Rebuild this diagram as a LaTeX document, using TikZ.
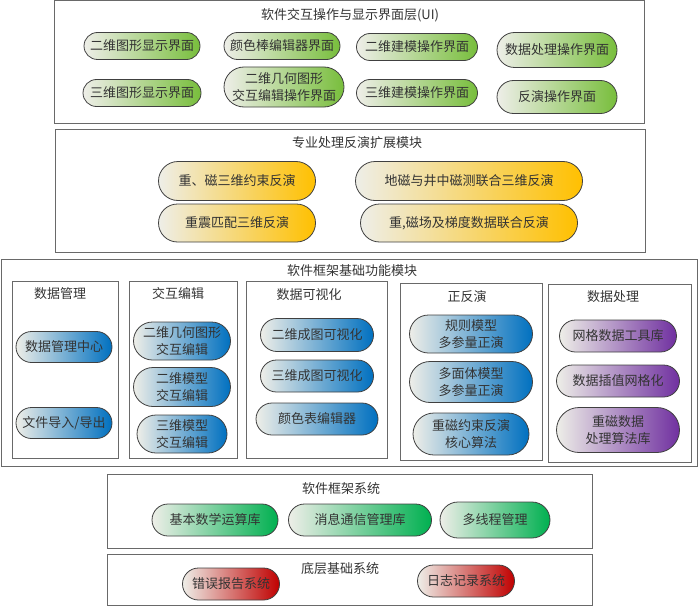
\documentclass[tikz,border=0pt]{standalone}
\usepackage{fontspec}
\newfontfamily\cjk{Noto Sans CJK SC}
\definecolor{uigreen}{RGB}{120,190,60}
\definecolor{gold}{RGB}{255,192,0}
\definecolor{sblue}{RGB}{0,112,192}
\definecolor{spurple}{RGB}{112,48,160}
\definecolor{sgreen}{RGB}{0,176,80}
\definecolor{sred}{RGB}{192,0,0}
\definecolor{pale}{RGB}{238,238,232}
\definecolor{framegray}{RGB}{105,105,105}
\tikzset{
  txt/.style={font=\cjk\fontsize{13}{17}\selectfont, text=black!80, align=center, inner sep=0pt},
  pill/.style 2 args={txt, draw=black!75, line width=0.8pt, minimum width=#1pt, minimum height=#2pt, rounded corners=#2*0.5pt},
  gpill/.style 2 args={pill={#1}{#2}, left color=pale, right color=uigreen},
  ypill/.style 2 args={pill={#1}{#2}, left color=pale, right color=gold},
  bpill/.style 2 args={pill={#1}{#2}, left color=pale, right color=sblue},
  ppill/.style 2 args={pill={#1}{#2}, left color=pale, right color=spurple},
  spill/.style 2 args={pill={#1}{#2}, left color=pale, right color=sgreen},
  rpill/.style 2 args={pill={#1}{#2}, left color=pale, right color=sred},
  frame/.style={draw=framegray, line width=1pt}
}
\begin{document}
\begin{tikzpicture}[x=1pt,y=-1pt]
\useasboundingbox (0,0) rectangle (700,607);
% layer 1
\draw[frame] (54,1) rectangle (644,123);
\node[txt] (t1) at (350,15) {软件交互操作与显示界面层(UI)};
\node[gpill={116}{27}] (a1) at (142,46) {二维图形显示界面};
\node[gpill={118}{27}] (a2) at (142,93) {三维图形显示界面};
\node[gpill={116}{27}] (a3) at (282,46) {颜色棒编辑器界面};
\node[gpill={120}{40}] (a4) at (284,87) {二维几何图形\\交互编辑操作界面};
\node[gpill={121}{27}] (a5) at (417,47) {二维建模操作界面};
\node[gpill={121}{27}] (a6) at (417,93) {三维建模操作界面};
\node[gpill={120}{35}] (a7) at (557,50) {数据处理操作界面};
\node[gpill={120}{33}] (a8) at (557,97) {反演操作界面};
% layer 2
\draw[frame] (55,129) rectangle (645,252);
\node[txt] (t2) at (357,143) {专业处理反演扩展模块};
\node[ypill={157}{39}] (b1) at (237,181) {重、磁三维约束反演};
\node[ypill={227}{39}] (b2) at (469,181) {地磁与井中磁测联合三维反演};
\node[ypill={157}{38}] (b3) at (237,223) {重震匹配三维反演};
\node[ypill={217}{38}] (b4) at (469,223) {重,磁场及梯度数据联合反演};
% layer 3
\draw[frame] (1,259) rectangle (697,466);
\node[txt] (t3) at (352,271) {软件框架基础功能模块};
\draw[frame] (12,281) rectangle (118,458);
\draw[frame] (129,281) rectangle (237,458);
\draw[frame] (246,281) rectangle (387,458);
\draw[frame] (400,283) rectangle (542,460);
\draw[frame] (548,284) rectangle (691,462);
\node[txt] (c1) at (60,294) {数据管理};
\node[txt] (c2) at (178,294) {交互编辑};
\node[txt] (c3) at (309,295) {数据可视化};
\node[txt] (c4) at (467,297) {正反演};
\node[txt] (c5) at (613,297) {数据处理};
\node[bpill={96}{31}] (d1) at (64,347) {数据管理中心};
\node[bpill={96}{31}] (d2) at (64,423) {文件导入/导出};
\node[bpill={97}{38}] (d3) at (182,341) {二维几何图形\\交互编辑};
\node[bpill={97}{39}] (d4) at (182,387) {二维模型\\交互编辑};
\node[bpill={90}{38}] (d5) at (182,434) {三维模型\\交互编辑};
\node[bpill={113}{33}] (d6) at (317,335) {二维成图可视化};
\node[bpill={113}{32}] (d7) at (317,376) {三维成图可视化};
\node[bpill={122}{32}] (d8) at (317,419) {颜色表编辑器};
\node[bpill={123}{38}] (d9) at (471,334) {规则模型\\多参量正演};
\node[bpill={123}{41}] (d10) at (471,382) {多面体模型\\多参量正演};
\node[bpill={116}{42}] (d11) at (471,434) {重磁约束反演\\核心算法};
\node[ppill={117}{32}] (e1) at (618,336) {网格数据工具库};
\node[ppill={123}{32}] (e2) at (618,381) {数据插值网格化};
\node[ppill={123}{45}] (e3) at (618,430) {重磁数据\\处理算法库};
% layer 4
\draw[frame] (107,474) rectangle (592,548);
\node[txt] (t4) at (341,489) {软件框架系统};
\node[spill={126}{32}] (f1) at (215,520) {基本数学运算库};
\node[spill={143}{32}] (f2) at (360,520) {消息通信管理库};
\node[spill={110}{36}] (f3) at (495,520) {多线程管理};
% layer 5
\draw[frame] (107,554) rectangle (592,605);
\node[txt] (t5) at (340,569) {底层基础系统};
\node[rpill={97}{32}] (g1) at (231,584) {错误报告系统};
\node[rpill={97}{32}] (g2) at (466,581) {日志记录系统};
\end{tikzpicture}
\end{document}
